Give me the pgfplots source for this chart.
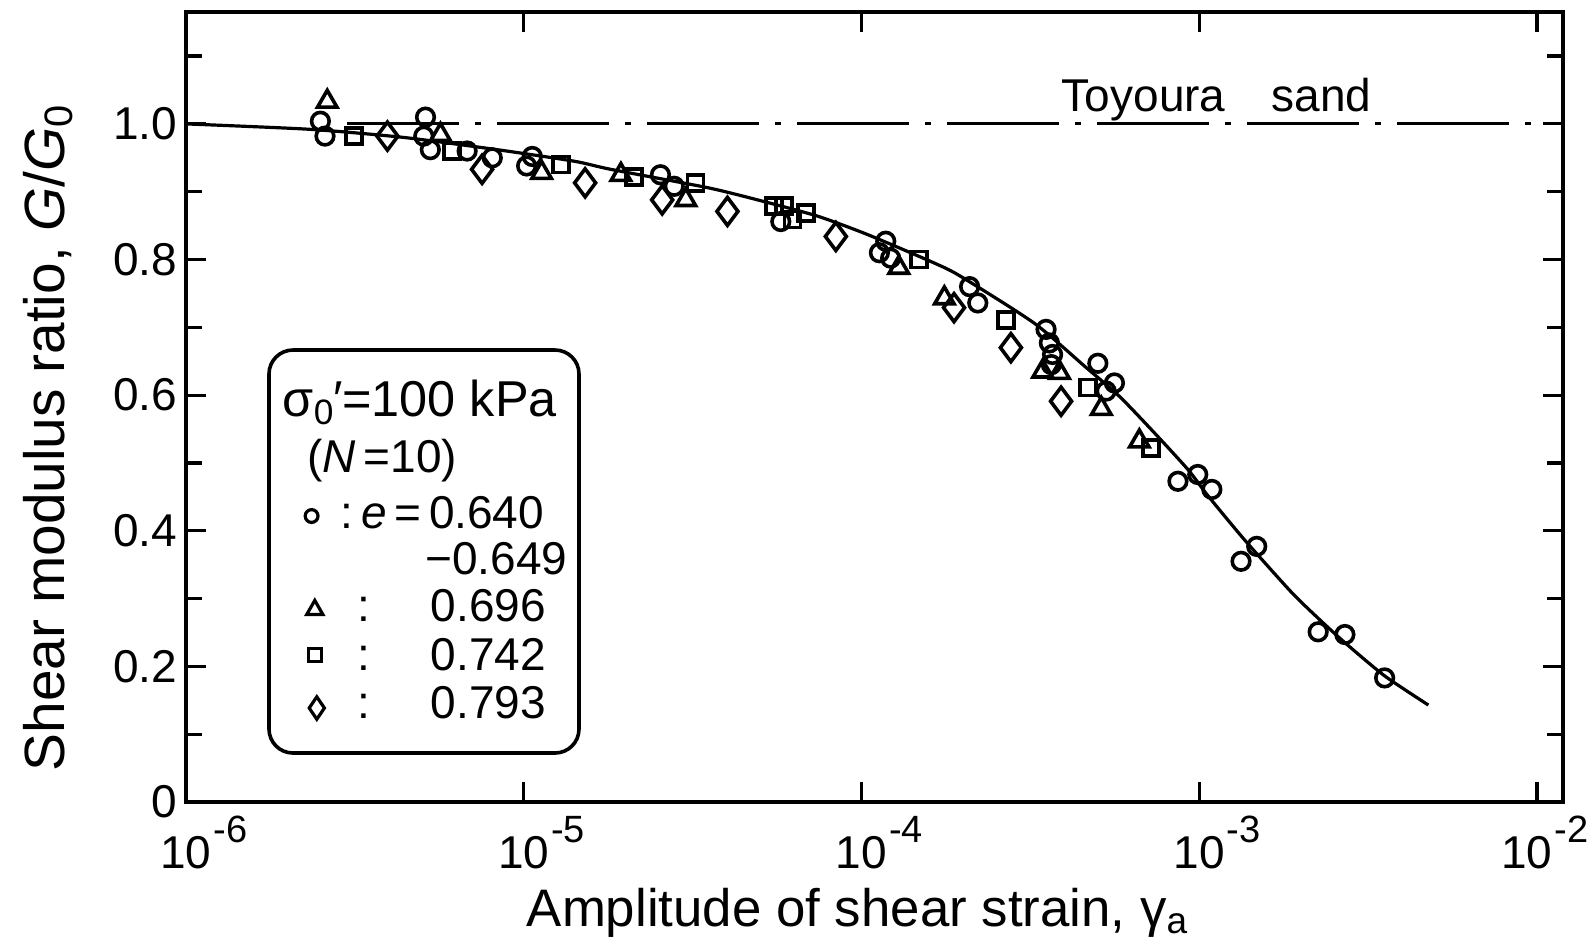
\documentclass[border=0pt]{standalone}
\usepackage{fontspec}
\setmainfont{Liberation Sans}
\usepackage{pgfplots}
\pgfplotsset{compat=1.18}

% exponent label for the log axis: "10" centred on the tick, power hanging right
\newcommand{\tenpow}[1]{10\rlap{\raisebox{6.5pt}{\fontsize{9.5}{9.5}\selectfont\kern0.5pt #1}}}

\begin{document}
\fontsize{11.5}{13.8}\selectfont
\begin{tikzpicture}
\begin{axis}[
    scale only axis,
    width=344.25pt, height=197.5pt,
    xmode=log,
    xmin=1e-6, xmax=0.01194,
    ymin=0, ymax=1.165,
    axis line style={line width=0.9pt},
    every tick/.style={black, line width=0.8pt},
    major tick length=5pt,
    minor tick length=4pt,
    xtick={1e-6,1e-5,1e-4,1e-3,1e-2},
    xticklabels={\tenpow{-6},\tenpow{-5},\tenpow{-4},\tenpow{-3},\hspace*{-5pt}\tenpow{-2}},
    xminorticks=false,
    xticklabel style={anchor=base, yshift=-16.5pt},
    ytick={0,0.2,0.4,0.6,0.8,1.0},
    yticklabels={0\hspace{3.8pt},0.2,0.4,0.6,0.8,1.0},
    minor ytick={0.1,0.3,0.5,0.7,0.9,1.1},
    yticklabel style={inner sep=0pt, xshift=-2pt},
    xlabel={Amplitude of shear strain, γ\textsubscript{a}},
    xlabel style={at={(axis description cs:0.488,0)}, anchor=base, yshift=-31pt,
        font=\fontsize{13.2}{15}\selectfont},
    ylabel={Shear modulus ratio, \textit{G}/\textit{G}\textsubscript{0}},
    ylabel style={at={(axis description cs:-0.1,0.462)}, anchor=center,
        font=\fontsize{14.2}{16}\selectfont},
    clip=false,
]
% Toyoura sand reference line at G/G0 = 1
\addplot[black, line width=0.8pt, dash pattern=on 28pt off 4pt on 1.5pt off 4pt]
    coordinates {(3.0e-6,1.0) (0.01194,1.0)};
\node[anchor=base west, inner sep=0pt] at (axis cs:3.9e-4,1.0) [yshift=3pt]
    {Toyoura\hspace{1.0em}sand};

% fitted curve
\addplot[black, line width=0.8pt, smooth, tension=0.4] coordinates {
    (1e-6,1.000) (2.33e-6,0.992) (4.42e-6,0.980) (8.34e-6,0.962)
    (1.41e-5,0.945) (1.81e-5,0.933) (3.50e-5,0.906) (4.92e-5,0.888)
    (7.41e-5,0.864) (1.04e-4,0.837) (1.64e-4,0.795) (1.97e-4,0.775)
    (3.25e-4,0.706) (4.57e-4,0.643) (5.81e-4,0.598) (7.38e-4,0.544)
    (9.27e-4,0.490) (1.06e-3,0.452) (1.36e-3,0.387) (1.87e-3,0.310)
    (2.25e-3,0.271) (2.70e-3,0.235) (3.54e-3,0.186) (4.77e-3,0.143)
};

% e = 0.640-0.649
\addplot[only marks, mark=o, mark size=2.2pt,
    mark options={line width=0.9pt, fill=white}] coordinates {
    (2.50e-6,1.004) (2.58e-6,0.982) (5.12e-6,1.010) (5.06e-6,0.982)
    (5.29e-6,0.962) (6.80e-6,0.960) (8.07e-6,0.950) (1.06e-5,0.952)
    (1.02e-5,0.938) (2.54e-5,0.925) (2.79e-5,0.908) (5.77e-5,0.856)
    (1.18e-4,0.827) (1.13e-4,0.810) (1.22e-4,0.802) (2.09e-4,0.760)
    (2.21e-4,0.736) (3.52e-4,0.697) (3.60e-4,0.677) (3.68e-4,0.660)
    (3.65e-4,0.645) (5.01e-4,0.647) (5.30e-4,0.606) (5.61e-4,0.618)
    (8.65e-4,0.473) (9.90e-4,0.483) (1.09e-3,0.461) (1.33e-3,0.355)
    (1.48e-3,0.377) (2.25e-3,0.251) (2.70e-3,0.247) (3.54e-3,0.183)
};
% e = 0.696
\addplot[only marks, mark=triangle, mark size=2.8pt,
    mark options={line width=0.9pt, fill=white}] coordinates {
    (2.62e-6,1.033) (5.67e-6,0.984) (1.13e-5,0.928) (1.94e-5,0.925)
    (3.02e-5,0.888) (1.29e-4,0.788) (1.76e-4,0.743) (3.44e-4,0.635)
    (3.86e-4,0.633) (5.13e-4,0.580) (6.65e-4,0.532)
};
% e = 0.742
\addplot[only marks, mark=square, mark size=2pt,
    mark options={line width=0.9pt, fill=white}] coordinates {
    (3.14e-6,0.982) (6.14e-6,0.960) (1.29e-5,0.940) (2.12e-5,0.922)
    (3.23e-5,0.913) (5.51e-5,0.879) (5.90e-5,0.879) (6.25e-5,0.859)
    (6.84e-5,0.869) (1.48e-4,0.800) (2.68e-4,0.711) (4.68e-4,0.611)
    (7.21e-4,0.522)
};
% e = 0.793
\addplot[only marks, mark=diamond, mark size=3.5pt,
    mark options={line width=0.9pt, fill=white}] coordinates {
    (3.95e-6,0.982) (7.53e-6,0.933) (1.52e-5,0.913) (2.57e-5,0.888)
    (4.01e-5,0.871) (8.40e-5,0.834) (1.88e-4,0.729) (2.77e-4,0.670)
    (3.90e-4,0.591)
};
\end{axis}

% legend box, placed in pt from the lower left corner of the axis
\begin{scope}[shift={(current axis.south west)}]
\draw[line width=0.9pt, rounded corners=6pt] (20.75pt,12.25pt) rectangle (98.25pt,113pt);
\node[anchor=base west, inner sep=0pt, font=\fontsize{12.6}{15}\selectfont] at (24pt,96.5pt)
    {σ\textsubscript{0}\kern-0.05em′=100 kPa};
\node[anchor=base west, inner sep=0pt] at (30.2pt,82.5pt) {(\textit{N}\,=10)};
\draw[line width=0.8pt] (31.4pt,71.5pt) circle (1.6pt);
\node[anchor=base west, inner sep=0pt] at (38.5pt,68.5pt) {:\,\textit{e}\,=\,0.640};
\node[anchor=base east, inner sep=0pt] at (95.5pt,57pt) {−0.649};
\draw[line width=0.8pt] (32.2pt,50.4pt) -- (30.2pt,46.9pt) -- (34.2pt,46.9pt) -- cycle;
\node[anchor=base west, inner sep=0pt] at (42.6pt,45.2pt) {:};
\node[anchor=base west, inner sep=0pt] at (61pt,45.2pt) {0.696};
\draw[line width=0.8pt] (30.6pt,35.2pt) rectangle (33.8pt,38.4pt);
\node[anchor=base west, inner sep=0pt] at (42.6pt,33pt) {:};
\node[anchor=base west, inner sep=0pt] at (61pt,33pt) {0.742};
\draw[line width=0.8pt] (32.7pt,26.3pt) -- (34.6pt,23.5pt) -- (32.7pt,20.7pt) -- (30.8pt,23.5pt) -- cycle;
\node[anchor=base west, inner sep=0pt] at (42.6pt,20.8pt) {:};
\node[anchor=base west, inner sep=0pt] at (61pt,20.8pt) {0.793};
\end{scope}

\pgfresetboundingbox
\path[use as bounding box] ([xshift=-46.5pt,yshift=-33.75pt]current axis.south west)
    rectangle ([xshift=7.25pt,yshift=3pt]current axis.north east);
\end{tikzpicture}
\end{document}
